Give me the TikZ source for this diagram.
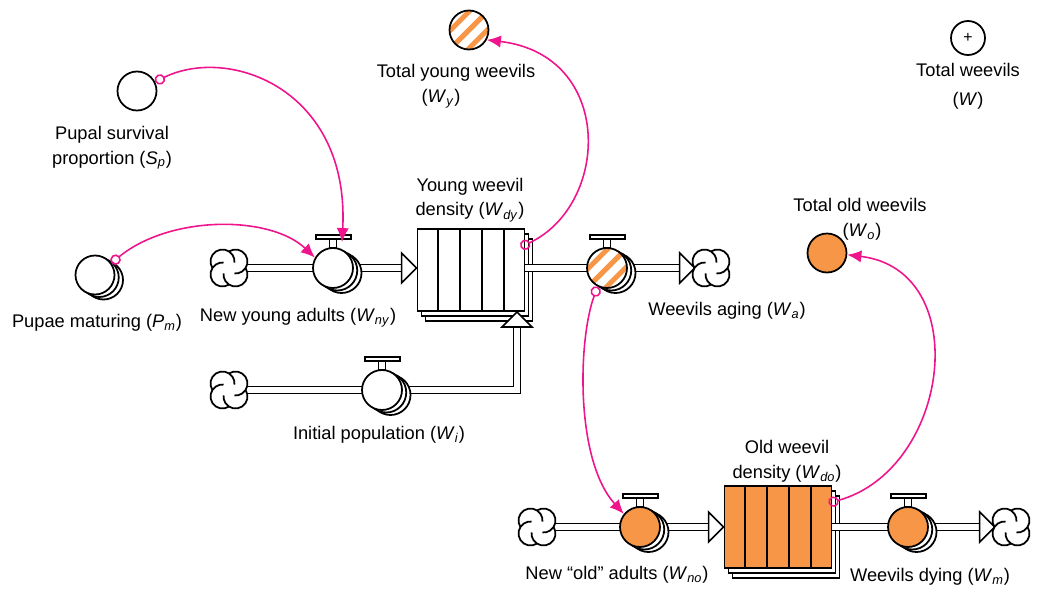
\documentclass[tikz,border=0pt]{standalone}
\usepackage{fontspec}
\setmainfont{Liberation Sans}
\usetikzlibrary{arrows.meta,shadows,calc}

\definecolor{weevilorange}{RGB}{247,150,70}
\definecolor{linkpink}{RGB}{240,20,140}

\pgfdeclarelayer{back}
\pgfdeclarelayer{mid}
\pgfsetlayers{back,mid,main}

\newcommand{\sym}[2]{\textit{#1}\textsubscript{\textit{#2}}}

\begin{document}
\begin{tikzpicture}
[x=0.02cm, y=-0.02cm, % one unit = one pixel of the sketch
stack/.style={copy shadow={shadow xshift=0.17cm, shadow yshift=-0.1cm, fill=white, draw=black, line width=1pt},
  copy shadow={shadow xshift=0.085cm, shadow yshift=-0.05cm, fill=white, draw=black, line width=1pt}},
stock/.style={rectangle, draw, line width=1.1pt, fill=white, minimum width=2.14cm, minimum height=1.64cm, inner sep=0pt,
  copy shadow={shadow xshift=0.16cm, shadow yshift=-0.2cm, fill=white, draw=black, line width=1.1pt},
  copy shadow={shadow xshift=0.08cm, shadow yshift=-0.1cm, fill=white, draw=black, line width=1.1pt}},
valve/.style={circle, draw, line width=1pt, fill=white, minimum size=0.8cm, inner sep=0pt, stack},
aux/.style={circle, draw, line width=1pt, fill=white, minimum size=0.78cm, inner sep=0pt},
cloudy/.style={circle, minimum size=0.64cm, inner sep=0pt},
puffs/.pic={
  \foreach \t in {45,135,225,315} \fill[white] (\t:9.2) circle[radius=12];
  \foreach \t in {45,135,225,315}
    \draw[line width=1pt] (\t:9.2) ++(\t-78:12) arc[start angle=\t-78, end angle=\t+140, radius=12];},
pipe/.style={line width=0.9pt, double=white, double distance=0.11cm},
link/.style={draw=linkpink, line width=0.9pt, {Circle[open,length=6pt,width=6pt]}-{Latex[length=8pt,width=7pt]}},
txt/.style={font=\fontsize{10.4}{14}\selectfont, inner sep=0pt, align=center},
striped/.style={path picture={
  \foreach \o in {-9.2,0,9.2}
    \draw[weevilorange, line width=0.1cm, shift={(path picture bounding box.center)}] (\o-30,\o+30) -- (\o+30,\o-30);}},
handle/.pic={
  \draw[line width=1pt, fill=white] (-3.5,1) rectangle (3.5,-8);
  \draw[line width=1pt, fill=white] (-17,-8) rectangle (18,-12);},
head/.pic={\draw[line width=0.9pt, fill=white] (0,0) -- (-15,-15) -- (-15,15) -- cycle;}
]
\useasboundingbox (0,0) rectangle (1040,588);

% stocks
\begin{pgfonlayer}{back}
\node[stock] (yStock) at (471,270) {};
\node[stock, fill=weevilorange] (oStock) at (778,527) {};
\foreach \s in {yStock,oStock}
  \foreach \i in {1,...,4}
    \draw[line width=1.1pt] ($(\s.north west)!\i/5!(\s.north east)$) -- ($(\s.south west)!\i/5!(\s.south east)$);
\end{pgfonlayer}

% valves and clouds
\node[valve] (vNY) at (333,268) {};
\node[valve, striped] (vA) at (607,268) {};
\node[valve] (vI) at (382,390) {};
\node[valve, fill=weevilorange] (vNO) at (640,527) {};
\node[valve, fill=weevilorange] (vM) at (908,527) {};
\foreach \v in {vNY,vA,vI,vNO,vM} \pic at (\v.north) {handle};

\node[cloudy] (cY) at (229,268) {};
\node[cloudy] (cA) at (711,268) {};
\node[cloudy] (cI) at (229,390) {};
\node[cloudy] (cNO) at (537,527) {};
\node[cloudy] (cM) at (1011,527) {};
\foreach \c in {cY,cA,cI,cNO,cM} \pic at (\c) {puffs};

% auxiliaries
\node[aux] (sp) at (137,91) {};
\node[aux, stack] (pm) at (95,275) {};
\node[aux, striped] (tY) at (469,30) {};
\node[aux, fill=weevilorange] (tO) at (827,253) {};
\node[aux, minimum size=0.68cm, font=\fontsize{9}{9}\selectfont] (tW) at (968,38) {+};

% labels
\node[txt] (lSp) at (112,148) {Pupal survival\\proportion (\sym{S}{p})};
\node[txt] (lPm) at (97,323) {Pupae maturing (\sym{P}{m})};
\node[txt] (lNY) at (298,318) {New young adults (\sym{W}{ny})};
\node[txt] (lYS) at (470,200) {Young weevil\\density (\sym{W}{dy})};
\node[txt] (lTY) at (456,73) {Total young weevils};
\node[txt] (lTYs) at (441,99) {(\sym{W}{y})};
\node[txt] (lTW) at (968,70) {Total weevils};
\node[txt] (lTWs) at (968,101) {(\textit{W})};
\node[txt] (lTO) at (860,205) {Total old weevils};
\node[txt] (lTOs) at (862,232) {(\sym{W}{o})};
\node[txt] (lWa) at (727,311) {Weevils aging (\sym{W}{a})};
\node[txt] (lWi) at (379,435) {Initial population (\sym{W}{i})};
\node[txt] (lOS) at (787,461) {Old weevil\\density (\sym{W}{do})};
\node[txt] (lNO) at (617,575) {New “old” adults (\sym{W}{no})};
\node[txt] (lWm) at (930,577) {Weevils dying (\sym{W}{m})};

% flows
\begin{pgfonlayer}{mid}
\draw[pipe] (cY.east) -- ($(yStock.west |- vNY)+(-15,0)$);
\pic at (yStock.west |- vNY) {head};
\draw[pipe] (yStock.east |- vA) -- ($(cA.west)+(-15,0)$);
\pic at (cA.west) {head};
\coordinate (iTip) at ($(yStock.south)+(46,0)$);
\draw[pipe] (cI.east) -- (cI.east -| iTip) -- ($(iTip)+(0,15)$);
\pic[rotate=90] at (iTip) {head};
\draw[pipe] (cNO.east) -- ($(oStock.west |- vNO)+(-15,0)$);
\pic at (oStock.west |- vNO) {head};
\draw[pipe] (oStock.east |- vM) -- ($(cM.west)+(-15,0)$);
\pic at (cM.west) {head};
\end{pgfonlayer}

% information links
\draw[link] (sp.27) .. controls (230,45) and (350,90) .. ($(vNY.north)+(9,-5)$);
\draw[link] (pm.36) .. controls (170,215) and (270,215) .. (vNY.150);
\draw[link] ($(yStock.north east)+(-5,19)$) .. controls (610,205) and (615,55) .. (tY.-29);
\draw[link] (vA.243) .. controls (578,340) and (575,460) .. (vNO.141);
\draw[link] ($(oStock.north east)+(-4,18)$) .. controls (950,470) and (975,270) .. (tO.-5);
\end{tikzpicture}
\end{document}
